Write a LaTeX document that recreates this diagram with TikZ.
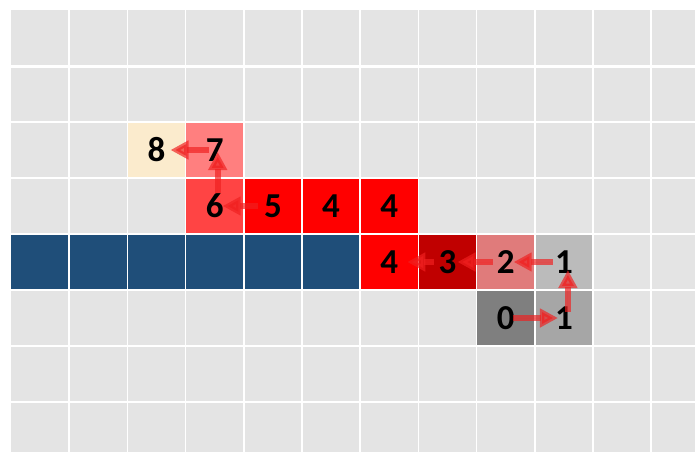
\documentclass[tikz,border=0pt]{standalone}
\usepackage{fontspec}
\setmainfont{Carlito}
\usetikzlibrary{arrows.meta}
\definecolor{bggrey}{HTML}{E4E4E4}
\definecolor{cream}{HTML}{FBEBCD}
\definecolor{pink7}{HTML}{FF7F7F}
\definecolor{red6}{HTML}{FF4444}
\definecolor{red3}{HTML}{C00000}
\definecolor{pink2}{HTML}{E07B7B}
\definecolor{grey1a}{HTML}{BBBBBB}
\definecolor{grey1b}{HTML}{A6A6A6}
\definecolor{grey0}{HTML}{7F7F7F}
\definecolor{navy}{HTML}{1F4E79}
\definecolor{arrowred}{HTML}{F02020}
\tikzset{
  cellbox/.style={rectangle, minimum width=58.2pt, minimum height=56pt, inner sep=0pt, fill=#1,
    font=\fontsize{35}{35}\selectfont\bfseries},
  gridline/.style={white, line width=1.5pt},
  moveto/.style={draw=arrowred, draw opacity=0.68, fill opacity=0.68, fill=arrowred, line width=6pt,
    -{Triangle[length=18pt,width=18pt]}},
}
\newcommand{\cx}[1]{11+58.2*(#1+0.5)}
\newcommand{\cy}[1]{10+56*(#1+0.5)}
\begin{document}
\begin{tikzpicture}[x=1pt,y=-1pt]
\useasboundingbox (0,0) rectangle (695,452);
\fill[white] (0,0) rectangle (695,452);
\fill[bggrey] (11,10) rectangle (695,452);
% blue row
\foreach \c in {0,...,5} {
  \node[cellbox=navy] (b\c) at ({\cx{\c}},{\cy{4}}) {};
}
% numbered cells
\node[cellbox=cream] (n8) at ({\cx{2}},{\cy{2}}) {8};
\node[cellbox=pink7] (n7) at ({\cx{3}},{\cy{2}}) {7};
\node[cellbox=red6] (n6) at ({\cx{3}},{\cy{3}}) {6};
\node[cellbox=red] (n5) at ({\cx{4}},{\cy{3}}) {5};
\node[cellbox=red] (n4a) at ({\cx{5}},{\cy{3}}) {4};
\node[cellbox=red] (n4b) at ({\cx{6}},{\cy{3}}) {4};
\node[cellbox=red] (n4c) at ({\cx{6}},{\cy{4}}) {4};
\node[cellbox=red3] (n3) at ({\cx{7}},{\cy{4}}) {3};
\node[cellbox=pink2] (n2) at ({\cx{8}},{\cy{4}}) {2};
\node[cellbox=grey1a] (n1a) at ({\cx{9}},{\cy{4}}) {1};
\node[cellbox=grey0] (n0) at ({\cx{8}},{\cy{5}}) {0};
\node[cellbox=grey1b] (n1b) at ({\cx{9}},{\cy{5}}) {1};
% grid lines
\foreach \i in {1,...,11} {
  \draw[gridline] ({11+58.2*\i},10) -- ({11+58.2*\i},452);
}
\foreach \j in {2,...,7} {
  \draw[gridline] (11,{10+56*\j}) -- (695,{10+56*\j});
}
\draw[white, line width=3pt] (11,66) -- (695,66);
% arrows
\draw[moveto, shorten <=7pt, shorten >=6pt] (n0.center) -- (n1b.center);
\draw[moveto, shorten <=6pt, shorten >=8pt] ([xshift=4pt]n1b.center) -- ([xshift=4pt]n1a.center);
\draw[moveto, shorten <=11pt, shorten >=8pt] (n1a.center) -- (n2.center);
\draw[moveto, shorten <=13pt, shorten >=10pt] (n2.center) -- (n3.center);
\draw[moveto, shorten <=14pt, shorten >=18pt] (n3.center) -- (n4c.center);
\draw[moveto, shorten <=15pt, shorten >=8pt] (n5.center) -- (n6.center);
\draw[moveto, shorten <=13pt, shorten >=2pt] ([xshift=3pt]n6.center) -- ([xshift=3pt]n7.center);
\draw[moveto, shorten <=6pt, shorten >=14pt] (n7.center) -- (n8.center);
\end{tikzpicture}
\end{document}
